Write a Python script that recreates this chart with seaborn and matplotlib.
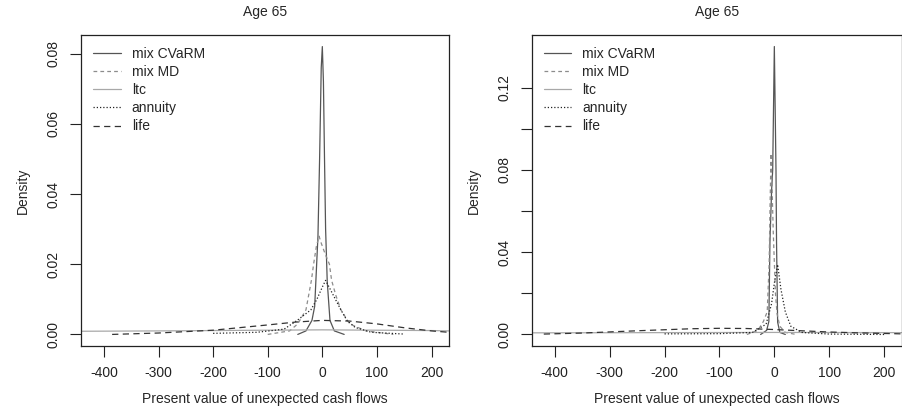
import numpy as np
import matplotlib
matplotlib.use("Agg")
import matplotlib.pyplot as plt
import pandas as pd
import seaborn as sns

# ---- data (x = present value, y = density) ----
# left panel
left_cvarm_x = [-45, -30, -19, -14, -8, -5, -2, 0, 2, 4, 6, 9, 14, 22, 40]
left_cvarm_y = [0, 0.001, 0.004, 0.008, 0.028, 0.05, 0.076, 0.082, 0.072, 0.05, 0.03, 0.015, 0.004, 0.001, 0]
left_md_x = [-100, -60, -45, -30, -20, -16, -11, -6, -2, 5, 13, 17, 25, 34, 50, 80, 130]
left_md_y = [0, 0.001, 0.003, 0.007, 0.0154, 0.02, 0.025, 0.028, 0.026, 0.023, 0.02, 0.0154, 0.011, 0.007, 0.003, 0.001, 0]
left_ltc_x = [-442, -300, -200, -100, 0, 100, 200, 232]
left_ltc_y = [0.0009, 0.001, 0.0011, 0.0012, 0.0013, 0.0012, 0.0011, 0.001]
left_ann_x = [-200, -120, -70, -46, -21, -10, 0, 6, 14, 24, 34, 45, 60, 90, 150]
left_ann_y = [0.0003, 0.0006, 0.0015, 0.004, 0.007, 0.010, 0.0135, 0.0154, 0.013, 0.010, 0.007, 0.004, 0.002, 0.0006, 0.0001]
left_life_x = [-385, -300, -200, -100, -50, 0, 50, 100, 150, 200, 232]
left_life_y = [0.0, 0.0004, 0.0012, 0.0027, 0.0035, 0.0040, 0.0038, 0.0030, 0.0019, 0.0010, 0.0006]

# right panel
right_cvarm_x = [-25, -14, -10, -8, -5, -3, -1.5, 0, 1.5, 3, 4, 6, 10, 20]
right_cvarm_y = [0, 0.002, 0.0063, 0.045, 0.07, 0.08, 0.11, 0.140, 0.11, 0.08, 0.045, 0.006, 0.001, 0]
right_md_x = [-50, -30, -20, -13, -9.5, -8, -6, -4, -2, 0, 2, 5, 10, 20, 40]
right_md_y = [0, 0.002, 0.0063, 0.011, 0.034, 0.06, 0.088, 0.07, 0.05, 0.035, 0.02, 0.01, 0.004, 0.001, 0]
right_ltc_x = [-442, -200, 0, 232]
right_ltc_y = [0.0008, 0.0009, 0.001, 0.0009]
right_ann_x = [-200, -100, -40, -15, -5, 0, 6, 12, 20, 30, 50, 100, 200]
right_ann_y = [0.0003, 0.0004, 0.001, 0.005, 0.015, 0.025, 0.034, 0.022, 0.011, 0.004, 0.001, 0.0002, 0]
right_life_x = [-420, -350, -250, -150, -100, -50, 0, 50, 100, 150, 200, 232]
right_life_y = [0.0002, 0.0007, 0.0018, 0.0028, 0.0030, 0.0029, 0.0024, 0.0018, 0.0012, 0.0008, 0.0005, 0.0003]

x_ticks = [-400, -300, -200, -100, 0, 100, 200]

sns.set_style("ticks")
plt.rcParams["font.family"] = ["Liberation Sans", "DejaVu Sans"]
plt.rcParams["axes.unicode_minus"] = False

# label, color, linestyle
styles = [
    ("mix CVaRM", "#555555", "-"),
    ("mix MD", "#8c8c8c", (0, (3, 2.5))),
    ("ltc", "#a8a8a8", "-"),
    ("annuity", "#222222", (0, (1, 1.6))),
    ("life", "#333333", (0, (5, 3.5))),
]

panels = [
    ([(left_cvarm_x, left_cvarm_y), (left_md_x, left_md_y), (left_ltc_x, left_ltc_y),
      (left_ann_x, left_ann_y), (left_life_x, left_life_y)],
     (-0.0033, 0.0853), np.arange(0, 0.081, 0.02), 1),
    ([(right_cvarm_x, right_cvarm_y), (right_md_x, right_md_y), (right_ltc_x, right_ltc_y),
      (right_ann_x, right_ann_y), (right_life_x, right_life_y)],
     (-0.0056, 0.1456), np.arange(0, 0.121, 0.02), 2),
]

fig = plt.figure(figsize=(9.03, 4.12), dpi=100)
rects = [[81 / 903, 1 - 346 / 412, 368 / 903, 311 / 412],
         [531.7 / 903, 1 - 346 / 412, 370 / 903, 311 / 412]]

for rect, (curves, ylim, yt, every) in zip(rects, panels):
    ax = fig.add_axes(rect)
    for (xs, ys), (lab, col, ls) in zip(curves, styles):
        sns.lineplot(x=xs, y=ys, ax=ax, color=col, linestyle=ls, linewidth=0.9, label=lab)
    ax.set_xlim(-442, 232)
    ax.set_ylim(*ylim)
    ax.set_xticks(x_ticks)
    ax.set_xticklabels([str(t) for t in x_ticks])
    ax.set_yticks(yt)
    ax.set_yticklabels([f"{v:.2f}" if i % every == 0 else "" for i, v in enumerate(yt)],
                       rotation=90, va="center")
    ax.tick_params(direction="out", length=7.7, width=0.8, labelsize=10, pad=7, colors="#222222")
    for sp in ax.spines.values():
        sp.set_visible(True)
        sp.set_linewidth(0.9)
        sp.set_color("#222222")
    ax.set_xlabel("Present value of unexpected cash flows", fontsize=10, labelpad=8)
    ax.set_ylabel("Density", fontsize=10, labelpad=12)
    ax.set_title("Age 65", fontsize=10, pad=14)
    ax.legend(loc="upper left", bbox_to_anchor=(0.0, 1.0), frameon=False, fontsize=10,
              handlelength=2.0, handletextpad=0.8, labelspacing=0.3, borderaxespad=0.45)

fig.savefig("out.png", dpi=100)
